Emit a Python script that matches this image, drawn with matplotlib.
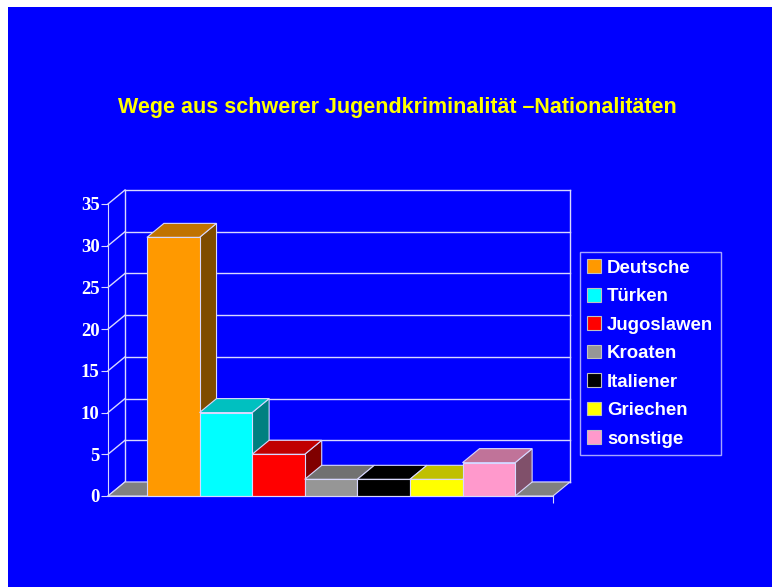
import matplotlib
matplotlib.use("Agg")
import matplotlib.pyplot as plt
from matplotlib.patches import Polygon, Rectangle, Patch

# data
nationen = ["Deutsche", "Türken", "Jugoslawen", "Kroaten", "Italiener", "Griechen", "sonstige"]
werte = [31, 10, 5, 2, 2, 2, 4]
front_farben = ["#FF9900", "#00FFFF", "#FF0000", "#969696", "#000000", "#FFFF00", "#FF99CC"]
top_farben = ["#C07300", "#00C0C0", "#C00000", "#717171", "#000000", "#C0C000", "#C07399"]
seite_farben = ["#7F4C00", "#008080", "#800000", "#4B4B4B", "#000000", "#808000", "#80506A"]
yticks = [0, 5, 10, 15, 20, 25, 30, 35]
titel = "Wege aus schwerer Jugendkriminalität \u2013Nationalitäten"

W, H = 774, 587
fig = plt.figure(figsize=(W / 100, H / 100), dpi=100)
fig.patch.set_facecolor("white")
# blue slide background
fig.patches.append(Rectangle((8 / W, 0), (772 - 8) / W, (H - 7) / H,
                             transform=fig.transFigure, facecolor="#0000FF",
                             edgecolor="none", zorder=-5))

ax_l, ax_r, ax_t, ax_b = 108, 553, 204, 496
ax = fig.add_axes([ax_l / W, (H - ax_b) / H, (ax_r - ax_l) / W, (ax_b - ax_t) / H])
ax.set_facecolor("none")
ax.set_zorder(2)
xlo, xhi = -1.24, 7.22
ax.set_xlim(xlo, xhi)
ax.set_ylim(0, 35)

# depth offset in data units (17 px right, 14 px up)
dx = 17 / ((ax_r - ax_l) / (xhi - xlo))
dy = 14 / ((ax_b - ax_t) / 35)

linie = "#D8D8FF"

# back wall grid + left wall diagonals
for t in yticks:
    ax.plot([xlo + dx, xhi + dx], [t + dy, t + dy], color=linie, lw=1, clip_on=False, zorder=1)
    ax.plot([xlo, xlo + dx], [t, t + dy], color=linie, lw=1, clip_on=False, zorder=1)
ax.plot([xlo + dx, xlo + dx], [dy, 35 + dy], color=linie, lw=1, clip_on=False, zorder=1)
ax.plot([xhi + dx, xhi + dx], [dy, 35 + dy], color=linie, lw=1, clip_on=False, zorder=1)

# floor
ax.add_patch(Polygon([(xlo, 0), (xhi, 0), (xhi + dx, dy), (xlo + dx, dy)],
                     closed=True, facecolor="#808080", edgecolor=linie, lw=0.8,
                     clip_on=False, zorder=2))

# 3d bars
b = 0.5
for i, v in enumerate(werte):
    z = 3 + i
    seite = [(i + b, 0), (i + b + dx, dy), (i + b + dx, v + dy), (i + b, v)]
    oben = [(i - b, v), (i + b, v), (i + b + dx, v + dy), (i - b + dx, v + dy)]
    ax.add_patch(Polygon(seite, closed=True, facecolor=seite_farben[i],
                         edgecolor=linie, lw=0.8, clip_on=False, zorder=z))
    ax.add_patch(Polygon(oben, closed=True, facecolor=top_farben[i],
                         edgecolor=linie, lw=0.8, clip_on=False, zorder=z))
    ax.add_patch(Rectangle((i - b, 0), 2 * b, v, facecolor=front_farben[i],
                           edgecolor=linie, lw=0.8, clip_on=False, zorder=z))

# axes
for s in ["top", "right"]:
    ax.spines[s].set_visible(False)
for s in ["left", "bottom"]:
    ax.spines[s].set_color(linie)
    ax.spines[s].set_zorder(20)
ax.set_yticks(yticks)
ax.set_yticklabels([str(t) for t in yticks], fontfamily="Liberation Serif",
                   fontweight="bold", fontsize=13.5, color="white")
ax.tick_params(axis="y", colors=linie, labelcolor="white", length=5, pad=1)
ax.set_xticks([xhi])
ax.set_xticklabels([""])
ax.tick_params(axis="x", colors=linie, length=5)

fig.text(397 / W, 1 - 107 / H, titel, ha="center", va="center", color="#FFFF00",
         fontsize=15.5, fontweight="bold", fontfamily="Liberation Sans")

handles = [Patch(facecolor=c, edgecolor="#C0C0C0", lw=0.8) for c in front_farben]
leg = fig.legend(handles, nationen, loc="upper left",
                 bbox_to_anchor=(580 / W, 1 - 252 / H), frameon=True,
                 fancybox=False, facecolor="#0000FF", edgecolor="#D0D0FF",
                 handlelength=0.75, handleheight=0.75, handletextpad=0.3,
                 labelspacing=0.6, borderpad=0.4, borderaxespad=0,
                 prop={"family": "Liberation Sans", "weight": "bold", "size": 13.4})
leg.get_frame().set_linewidth(1)
for txt in leg.get_texts():
    txt.set_color("white")

fig.savefig("out.png", dpi=100, facecolor=fig.get_facecolor())
